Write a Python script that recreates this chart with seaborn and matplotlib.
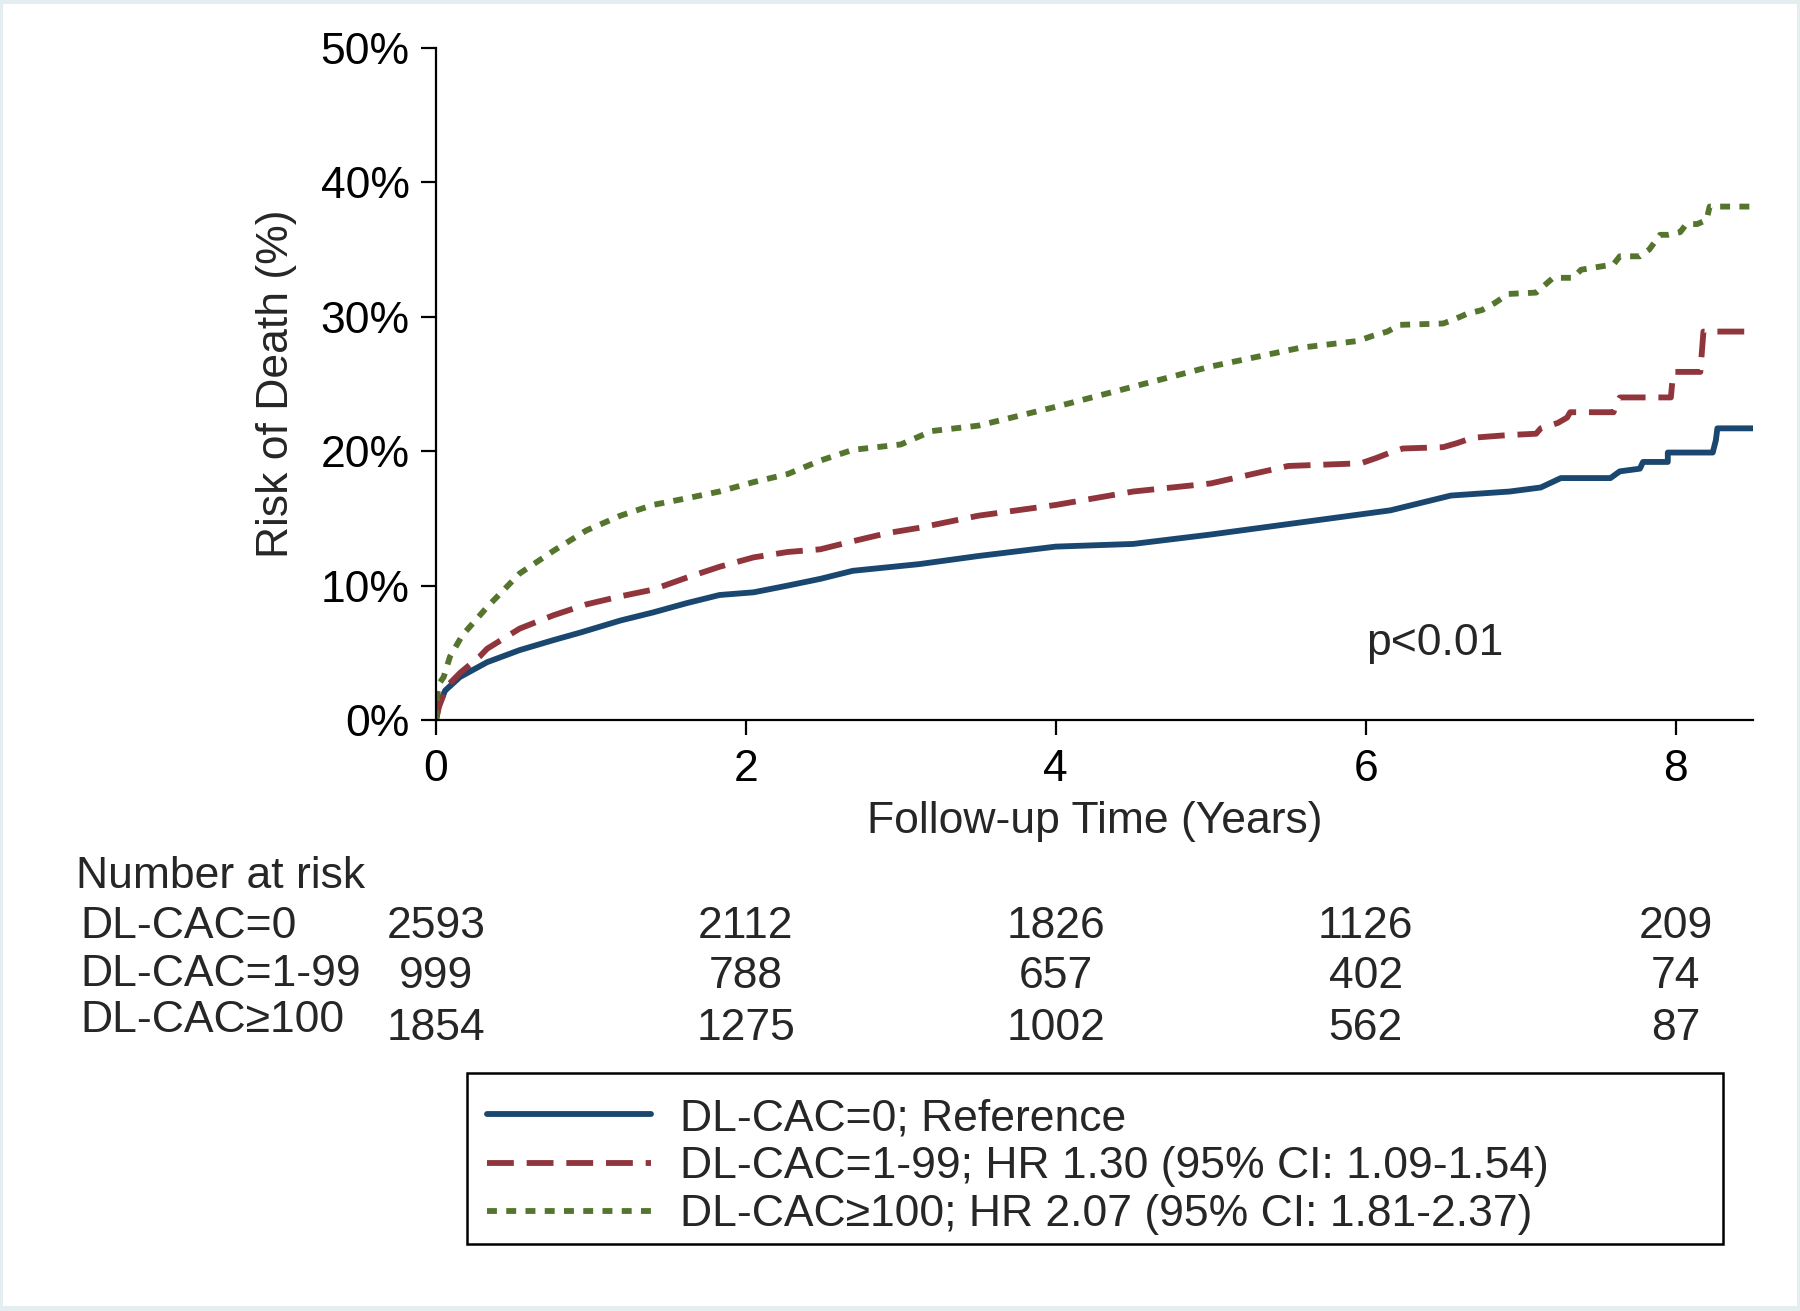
import seaborn as sns
import matplotlib.pyplot as plt
import matplotlib.transforms as mtransforms
from matplotlib.patches import Rectangle

# cumulative risk of death (%), by follow-up year
t_zero = [0, 0.02, 0.06, 0.155, 0.33, 0.54, 0.76, 0.93, 1.19, 1.40, 1.62, 1.83, 2.05, 2.27, 2.48,
          2.69, 3.12, 3.5, 4.0, 4.5, 5.0, 5.58, 6.16, 6.55, 6.93, 7.13, 7.26, 7.58, 7.64, 7.77,
          7.79, 7.95, 7.95, 8.24, 8.26, 8.27, 8.5]
r_zero = [0, 1.2, 2.2, 3.2, 4.3, 5.2, 5.95, 6.5, 7.4, 8.0, 8.7, 9.3, 9.5, 10.0, 10.5,
          11.1, 11.6, 12.2, 12.9, 13.1, 13.8, 14.7, 15.6, 16.7, 17.0, 17.3, 18.0, 18.0, 18.5, 18.7,
          19.2, 19.2, 19.9, 19.9, 20.8, 21.7, 21.7]

t_mid = [0, 0.02, 0.07, 0.155, 0.28, 0.33, 0.54, 0.76, 0.97, 1.19, 1.40, 1.62, 1.83, 2.05, 2.27,
         2.48, 2.69, 2.91, 3.12, 3.5, 4.0, 4.5, 5.0, 5.5, 5.97, 6.07, 6.16, 6.24, 6.5, 6.59,
         6.69, 6.92, 7.1, 7.13, 7.24, 7.30, 7.32, 7.6, 7.62, 7.64, 7.97, 7.98, 7.99, 8.16, 8.18, 8.5]
r_mid = [0, 1.0, 2.5, 3.5, 4.7, 5.3, 6.8, 7.8, 8.6, 9.2, 9.7, 10.6, 11.4, 12.1, 12.5,
         12.7, 13.3, 13.9, 14.3, 15.2, 16.0, 17.0, 17.6, 18.9, 19.1, 19.5, 19.9, 20.2, 20.3, 20.6,
         21.0, 21.2, 21.3, 21.7, 22.1, 22.5, 22.9, 22.9, 23.6, 24.0, 24.0, 25.3, 25.9, 25.9, 28.9, 28.9]

t_high = [0, 0.01, 0.02, 0.05, 0.09, 0.17, 0.33, 0.54, 0.76, 0.97, 1.19, 1.40, 1.62, 1.83, 2.05,
          2.27, 2.48, 2.69, 3.0, 3.2, 3.5, 4.0, 4.5, 5.0, 5.58, 5.95, 6.05, 6.14, 6.22, 6.50,
          6.57, 6.65, 6.75, 6.83, 6.92, 7.1, 7.21, 7.34, 7.39, 7.6, 7.64, 7.77, 7.83, 7.90, 7.95,
          8.03, 8.07, 8.14, 8.2, 8.22, 8.5]
r_high = [0, 2.0, 2.7, 3.2, 4.7, 6.3, 8.4, 10.9, 12.6, 14.1, 15.2, 16.0, 16.5, 17.0, 17.7,
          18.3, 19.3, 20.1, 20.5, 21.5, 21.9, 23.3, 24.8, 26.3, 27.7, 28.2, 28.6, 28.9, 29.4, 29.5,
          29.8, 30.2, 30.5, 31.0, 31.7, 31.8, 32.9, 32.9, 33.5, 33.9, 34.5, 34.5, 35.0, 36.1, 36.1,
          36.3, 36.9, 36.9, 37.2, 38.2, 38.2]

legend_labels = ["DL-CAC=0; Reference",
                 "DL-CAC=1-99; HR 1.30 (95% CI: 1.09-1.54)",
                 "DL-CAC\u2265100; HR 2.07 (95% CI: 1.81-2.37)"]
risk_groups = ["DL-CAC=0", "DL-CAC=1-99", "DL-CAC\u2265100"]
risk_times = [0, 2, 4, 6, 8]
at_risk_zero = [2593, 2112, 1826, 1126, 209]
at_risk_mid = [999, 788, 657, 402, 74]
at_risk_high = [1854, 1275, 1002, 562, 87]
y_ticks = [0, 10, 20, 30, 40, 50]

sns.set_theme(style="ticks")
plt.rcParams['font.family'] = ['Liberation Sans', 'DejaVu Sans']
fs = 32
W, H = 1800, 1311

fig = plt.figure(figsize=(18, 13.11), dpi=100, facecolor="#e4eef0")
# white page inside the thin grey-blue border
fig.patches.append(Rectangle((3 / W, 5 / H), 1794 / W, 1302 / H, transform=fig.transFigure,
                             facecolor="white", edgecolor="none", zorder=-10))
ax = fig.add_axes([0.2422, 0.4508, 0.7317, 0.5126])
ax.set_facecolor("white")

lw = 4.2
sns.lineplot(x=t_zero, y=r_zero, ax=ax, sort=False, estimator=None, color="#1a476f",
             lw=lw, label=legend_labels[0])
sns.lineplot(x=t_mid, y=r_mid, ax=ax, sort=False, estimator=None, color="#90353b",
             lw=lw, linestyle=(0, (4.6, 2.2)), label=legend_labels[1])
sns.lineplot(x=t_high, y=r_high, ax=ax, sort=False, estimator=None, color="#55752f",
             lw=lw, linestyle=(0, (1.7, 1.6)), label=legend_labels[2])

ax.set_xlim(0, 8.5)
ax.set_ylim(0, 50)
ax.set_xticks(risk_times)
ax.set_yticks(y_ticks)
ax.set_yticklabels([f"{v}%" for v in y_ticks])
sns.despine(ax=ax)
for s in ["left", "bottom"]:
    ax.spines[s].set_linewidth(1.6)
    ax.spines[s].set_color("black")
ax.tick_params(axis="both", labelsize=fs, length=11, width=1.6, color="black", labelcolor="black")
ax.tick_params(axis="y", pad=8)
ax.tick_params(axis="x", pad=10)
ax.set_ylabel("Risk of Death (%)", fontsize=fs, labelpad=17)
ax.set_xlabel("Follow-up Time (Years)", fontsize=fs, labelpad=8)

ax.text(6.0, 5.7, "p<0.01", fontsize=fs, ha="left", va="center")

# number at risk table
fig.text(76 / W, 1 - 876 / H, "Number at risk", fontsize=fs, ha="left", va="center")
trans = mtransforms.blended_transform_factory(ax.transData, fig.transFigure)
label_y = [926, 974, 1021]
num_y = [926, 977, 1028]
for grp, counts, ly, ny in zip(risk_groups, [at_risk_zero, at_risk_mid, at_risk_high], label_y, num_y):
    fig.text(80 / W, 1 - ly / H, grp, fontsize=fs, ha="left", va="center")
    for tt, n in zip(risk_times, counts):
        ax.text(tt, 1 - ny / H, str(n), fontsize=fs, ha="center", va="center",
                transform=trans, clip_on=False)

# legend box drawn separately, legend entries placed inside it
handles, labels = ax.get_legend_handles_labels()
ax.get_legend().remove()
fig.patches.append(Rectangle((467 / W, 1 - 1244 / H), 1256 / W, 171 / H, transform=fig.transFigure,
                             facecolor="white", edgecolor="black", linewidth=1.8, zorder=4))
leg = fig.legend(handles, labels, loc="upper left", bbox_to_anchor=(487 / W, 1 - 1098 / H),
                 bbox_transform=fig.transFigure, fontsize=fs, frameon=False,
                 handlelength=3.7, handletextpad=0.65, labelspacing=0.16,
                 borderpad=0, borderaxespad=0)
leg.set_zorder(6)

fig.savefig("out.png", dpi=100, facecolor=fig.get_facecolor())
